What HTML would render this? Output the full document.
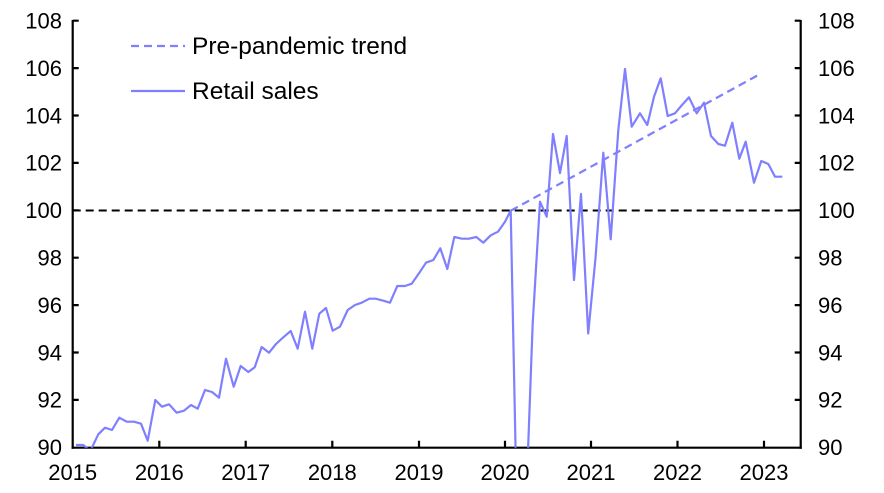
<!DOCTYPE html><html><head><style>html,body{margin:0;padding:0;background:#fff;width:884px;height:493px;overflow:hidden}svg{display:block}text{font-family:"Liberation Sans",Arial,sans-serif;font-size:22px;fill:#000}</style></head><body>
<svg width="884" height="493" viewBox="0 0 884 493">
<defs><clipPath id="c"><rect x="72.7" y="10" width="728" height="437.7"/></clipPath></defs>
<g stroke="#000" stroke-width="2.2" fill="none">
<line x1="72.7" y1="20" x2="72.7" y2="448.8"/>
<line x1="800.7" y1="20" x2="800.7" y2="448.8"/>
<line x1="71.6" y1="447.7" x2="801.8" y2="447.7"/>
<path d="M72.7 20.7h6M72.7 68.1h6M72.7 115.5h6M72.7 162.9h6M72.7 210.3h6M72.7 257.7h6M72.7 305.1h6M72.7 352.5h6M72.7 399.9h6"/>
<path d="M800.7 20.7h-6M800.7 68.1h-6M800.7 115.5h-6M800.7 162.9h-6M800.7 210.3h-6M800.7 257.7h-6M800.7 305.1h-6M800.7 352.5h-6M800.7 399.9h-6"/>
<path d="M159.3 447.7v-7M245.7 447.7v-7M332.3 447.7v-7M419 447.7v-7M505 447.7v-7M591 447.7v-7M677.5 447.7v-7M764 447.7v-7"/>
</g>
<line x1="72.7" y1="210.5" x2="800.7" y2="210.5" stroke="#000" stroke-width="2" stroke-dasharray="8,5"/>
<g clip-path="url(#c)" fill="none" stroke="#7f7fff" stroke-width="2.2" stroke-linejoin="round">
<line x1="510.7" y1="210.7" x2="758.3" y2="75" stroke-dasharray="8,5"/>
<polyline points="76,445 83.3,445 90.3,451 98.3,434.3 105,427.7 112,430 119.3,417.7 126.7,421.7 134,421.7 141,423.7 147.7,440.7 155.3,400 162,406.7 169,404.3 176.7,412.7 184,410.7 191,405 197.7,408.7 205,390 212,392 219,397.7 226,358.7 233.7,386.7 240.7,366 248.3,372 254.7,367.3 261.7,347 269,352.7 276,344 283.3,337.3 290.7,331 297.7,348.7 305,311.7 312.3,348.7 319.3,313.7 326,308 332.7,330.7 340,326.7 347.7,310 355,305 361.7,302.7 369.3,298.7 375.7,298.7 383.3,300.7 390,302.7 397.3,286 405,286 411.7,283.7 419,273.3 426,262.7 433.3,260 440.3,248.3 447.3,269 454.3,237 462,238.7 469,238.7 476.3,237 483.3,242.7 490.7,235.3 498,231.7 505,221.7 510.7,210.7 516,470 527.3,470 532.7,323.3 540,201.7 546.7,216.7 553,134 560,173 566.7,136 574,280 581,194 588.2,333.5 595.5,258 603.3,152.7 610.7,239.3 618.3,130 625,69 631.7,126.7 640,113.3 647.3,125 654,96.7 660.7,78.3 667.7,116 675,113.3 682,105 689,97.3 696.7,113.3 704,102.7 711,136 718.3,144 725,145.7 732.3,122.7 739.3,158.7 745.7,141.7 754,182.7 761.3,161 768.3,164 775,176.7 782.3,176.7"/>
</g>
<g text-anchor="end">
<text x="62" y="28.5">108</text><text x="62" y="75.9">106</text><text x="62" y="123.3">104</text><text x="62" y="170.7">102</text><text x="62" y="218.1">100</text><text x="62" y="265.5">98</text><text x="62" y="312.9">96</text><text x="62" y="360.3">94</text><text x="62" y="407.7">92</text><text x="62" y="455.1">90</text>
</g>
<g text-anchor="start">
<text x="818" y="28.5">108</text><text x="818" y="75.9">106</text><text x="818" y="123.3">104</text><text x="818" y="170.7">102</text><text x="818" y="218.1">100</text><text x="818" y="265.5">98</text><text x="818" y="312.9">96</text><text x="818" y="360.3">94</text><text x="818" y="407.7">92</text><text x="818" y="455.1">90</text>
</g>
<g text-anchor="middle">
<text x="72.7" y="480">2015</text><text x="159.3" y="480">2016</text><text x="245.7" y="480">2017</text><text x="332.3" y="480">2018</text><text x="419" y="480">2019</text><text x="505" y="480">2020</text><text x="591" y="480">2021</text><text x="677.5" y="480">2022</text><text x="764" y="480">2023</text>
</g>
<line x1="131" y1="46" x2="185" y2="46" stroke="#7f7fff" stroke-width="2.2" stroke-dasharray="8,5"/>
<line x1="131" y1="91" x2="185" y2="91" stroke="#7f7fff" stroke-width="2.2"/>
<text x="192" y="54" style="font-size:24.5px">Pre-pandemic trend</text>
<text x="192" y="99" style="font-size:24.5px">Retail sales</text>
</svg></body></html>
